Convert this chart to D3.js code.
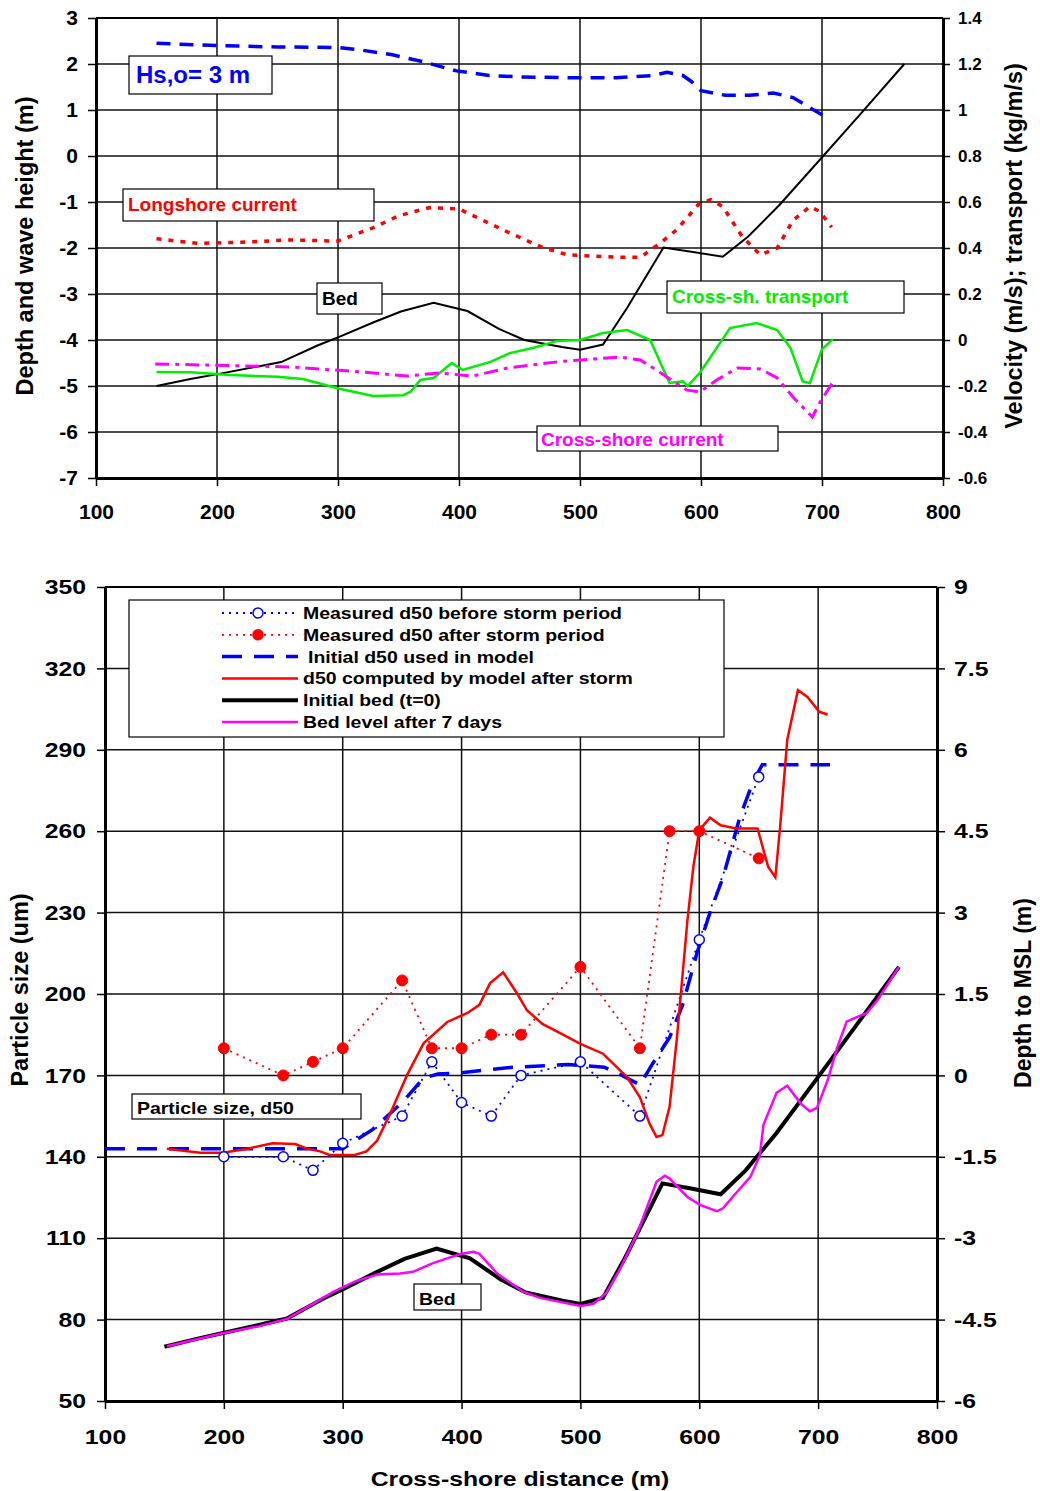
<!DOCTYPE html>
<html><head><meta charset="utf-8">
<script src="https://cdn.jsdelivr.net/npm/d3@7"></script>
<style>
body{margin:0;background:#fff}
svg{display:block}
text{font-family:"Liberation Sans",Arial,sans-serif;font-weight:bold}
</style>
</head><body>
<svg id="c" width="1040" height="1491"></svg>
<script>
// ---------- data ----------
const xTicks = [100,200,300,400,500,600,700,800];
const topLeftTicks = [-7,-6,-5,-4,-3,-2,-1,0,1,2,3];
const topRightTicks = [-0.6,-0.4,-0.2,0,0.2,0.4,0.6,0.8,1,1.2,1.4];
const botLeftTicks = [50,80,110,140,170,200,230,260,290,320,350];
const botRightTicks = [-6,-4.5,-3,-1.5,0,1.5,3,4.5,6,7.5,9];

// top panel (left axis: m ; right axis: m/s, kg/m/s)
const waveHeight = [[150,2.45],[200,2.40],[250,2.37],[300,2.36],[320,2.30],[345,2.20],[370,2.05],[398,1.85],[425,1.75],[450,1.72],[490,1.70],[530,1.70],[560,1.75],[572,1.82],[585,1.75],[592,1.62],[600,1.42],[620,1.32],[640,1.32],[660,1.37],[676,1.27],[690,1.05],[705,0.82]];
const longshoreCurrent = [[150,0.44],[185,0.42],[220,0.425],[260,0.435],[300,0.43],[330,0.49],[350,0.54],[375,0.575],[400,0.57],[440,0.47],[470,0.40],[490,0.37],[530,0.36],[550,0.36],[566,0.42],[580,0.48],[598,0.59],[608,0.61],[618,0.58],[634,0.45],[649,0.37],[663,0.40],[676,0.52],[690,0.58],[698,0.56],[708,0.49]];
const bedInitial = [[150,-5.0],[178,-4.85],[205,-4.72],[233,-4.58],[253,-4.48],[283,-4.12],[302,-3.92],[329,-3.62],[352,-3.38],[379,-3.19],[407,-3.37],[433,-3.76],[454,-4.0],[485,-4.15],[500,-4.21],[519,-4.1],[539,-3.3],[569,-1.99],[592,-2.08],[618,-2.19],[639,-1.75],[665,-1.06],[701,0],[733,0.95],[768,2.0]];
const crossTransport = [[150,-0.139],[178,-0.14],[211,-0.152],[250,-0.16],[271,-0.17],[302,-0.213],[329,-0.243],[354,-0.24],[360,-0.225],[368,-0.174],[379,-0.165],[394,-0.10],[403,-0.13],[426,-0.095],[442,-0.057],[461,-0.035],[481,-0.004],[500,0],[519,0.03],[539,0.043],[558,0],[574,-0.187],[585,-0.18],[589,-0.2],[599,-0.143],[624,0.052],[646,0.074],[663,0.043],[674,-0.035],[684,-0.18],[690,-0.187],[700,-0.04],[709,0.004]];
const crossCurrent = [[149,-0.104],[192,-0.109],[260,-0.117],[320,-0.139],[357,-0.157],[384,-0.143],[411,-0.157],[440,-0.122],[483,-0.094],[533,-0.074],[550,-0.087],[563,-0.13],[588,-0.217],[599,-0.226],[613,-0.174],[630,-0.122],[649,-0.126],[663,-0.165],[676,-0.248],[692,-0.335],[698,-0.274],[709,-0.183]];

// bottom panel (left axis: um ; right axis: m)
const beforeX = [200,250,275,300,350,375,400,425,450,500,550,600,650];
const beforeD50 = [140,140,135,145,155,175,160,155,170,175,155,220,280];
const afterX = [200,250,275,300,350,375,400,425,450,500,550,575,600,650];
const afterD50 = [180,170,175,180,205,180,180,185,185,210,180,260,260,250];
const d50Initial = [[100,143],[300,143],[325,150],[350,160],[368,169],[380,170.5],[400,171],[443,173],[490,174],[520,173],[535,170],[550,166.5],[561,174.5],[575,184],[586,196],[598,215],[609,230],[620,243],[634,265],[645,278],[653,284.5],[710,284.5]];
const d50Model = [[152,143],[180,141.5],[199,141.5],[220,143],[241,145],[260,144.7],[270,143],[281,142],[289,140.7],[310,140.7],[320,142],[329,146],[340,156],[354,170],[368,181.8],[388,189.7],[405,193],[415,196],[424,204],[435,208],[447,200],[455,194],[468,189],[483,185.6],[500,181.6],[519,178],[539,169.5],[550,162],[558,152.4],[564,147.3],[569,148],[575,158.4],[581,183],[590,227],[595,246.8],[600,260.4],[609,265],[618,262.2],[631,261],[649,261],[658,246.8],[664,243],[668,261.5],[674,293.6],[683,312],[691,309.5],[701,304],[708,303]];
const bed7days = [[152,-4.99],[199,-4.75],[230,-4.62],[253,-4.49],[292,-3.99],[310,-3.8],[329,-3.67],[348,-3.65],[359,-3.62],[376,-3.46],[399,-3.29],[410,-3.25],[415,-3.29],[430,-3.65],[452,-3.99],[466,-4.1],[500,-4.25],[511,-4.21],[522,-4.0],[533,-3.58],[548,-2.9],[564,-1.96],[571,-1.85],[575,-1.9],[590,-2.24],[601,-2.39],[615,-2.5],[620,-2.45],[628,-2.24],[643,-1.87],[651,-1.47],[654,-0.91],[665,-0.32],[674,-0.19],[685,-0.51],[693,-0.66],[699,-0.6],[708,-0.09],[716,0.51],[724,0.99],[733,1.08],[741,1.15],[750,1.39],[768,2.0]];

const legendLabels = ["Measured d50 before storm period","Measured d50 after storm period","Initial d50 used in model","d50 computed by model after storm","Initial bed (t=0)","Bed level after 7 days"];

// ---------- drawing ----------
const svg = d3.select("#c");
const BLUE="#0000ff", RED="#ff0000", GREEN="#00ee00", MAG="#ff00ff";

function stretch(sel, s){
  sel.each(function(){
    const t=d3.select(this); const x=+t.attr("x")||0;
    t.attr("x", x/s).attr("transform", `scale(${s},1)`);
  });
}
function label(g,x,y,txt,opt){
  const s=opt.s||1;
  const t=g.append("text").attr("transform",`translate(${x},${y}) scale(${s},1)${opt.rot?" rotate(-90)":""}`)
    .attr("font-size",opt.size).attr("fill",opt.fill||"#000").attr("text-anchor",opt.anchor||"start").text(txt);
  if(opt.dy) t.attr("dy",opt.dy);
  return t;
}
function box(g,x0,y0,x1,y1){
  g.append("rect").attr("x",x0).attr("y",y0).attr("width",x1-x0).attr("height",y1-y0)
   .attr("fill","#fff").attr("stroke","#000").attr("stroke-width",1.2);
}

// ===== TOP PANEL =====
{
const x = d3.scaleLinear([100,800],[96,943]);
const yL = d3.scaleLinear([-7,3],[478,18]);
const yR = d3.scaleLinear([-0.6,1.4],[478,18]);
const g = svg.append("g");
g.selectAll(".hg").data(topLeftTicks).join("line").attr("x1",96).attr("x2",943)
  .attr("y1",d=>yL(d)).attr("y2",d=>yL(d)).attr("stroke","#111").attr("stroke-width",1.5);
g.selectAll(".vg").data(xTicks).join("line").attr("y1",18).attr("y2",478)
  .attr("x1",d=>x(d)).attr("x2",d=>x(d)).attr("stroke","#111").attr("stroke-width",1.5);

const ax = (a)=>a.tickSizeOuter(0);
const gl = g.append("g").attr("transform","translate(96,0)")
  .call(ax(d3.axisLeft(yL).tickValues(topLeftTicks).tickFormat(d=>String(d)).tickSize(8).tickPadding(10)));
gl.selectAll("text").attr("font-size",21).attr("fill","#000");
const gr = g.append("g").attr("transform","translate(943,0)")
  .call(ax(d3.axisRight(yR).tickValues(topRightTicks).tickFormat(d=>String(d)).tickSize(7).tickPadding(8)));
gr.selectAll("text").attr("font-size",17).attr("fill","#000");
const gb = g.append("g").attr("transform","translate(0,478)")
  .call(ax(d3.axisBottom(x).tickValues(xTicks).tickFormat(d=>String(d)).tickSize(8).tickPadding(18)));
gb.selectAll("text").attr("font-size",21).attr("fill","#000");
[gl,gr,gb].forEach(a=>{a.attr("font-family",null);a.select(".domain").attr("stroke-width",3).attr("stroke","#000");a.selectAll(".tick line").attr("stroke-width",1.5).attr("stroke","#000");});
g.append("line").attr("x1",96).attr("x2",943).attr("y1",18).attr("y2",18).attr("stroke","#000").attr("stroke-width",2);

const lineL = d3.line().x(d=>x(d[0])).y(d=>yL(d[1]));
const lineR = d3.line().x(d=>x(d[0])).y(d=>yR(d[1]));
g.append("path").attr("d",lineL(bedInitial)).attr("fill","none").attr("stroke","#000").attr("stroke-width",2);
g.append("path").attr("d",lineR(crossTransport)).attr("fill","none").attr("stroke",GREEN).attr("stroke-width",2.5);
g.append("path").attr("d",lineR(crossCurrent)).attr("fill","none").attr("stroke",MAG).attr("stroke-width",3).attr("stroke-dasharray","14,6,4,6");
g.append("path").attr("d",lineR(longshoreCurrent)).attr("fill","none").attr("stroke",RED).attr("stroke-width",3.5).attr("stroke-dasharray","5,7");
g.append("path").attr("d",lineL(waveHeight)).attr("fill","none").attr("stroke",BLUE).attr("stroke-width",3.5).attr("stroke-dasharray","14,9");

box(g,129,56,272,94); label(g,136,83,"Hs,o= 3 m",{size:24,fill:BLUE});
box(g,123,189,374,221); label(g,128,211,"Longshore current",{size:19,fill:RED});
box(g,317,283,382,314); label(g,322,305,"Bed",{size:19});
box(g,667,281,904,313); label(g,672,303,"Cross-sh. transport",{size:19,fill:GREEN});
box(g,537,426,778,451); label(g,541,446,"Cross-shore current",{size:19,fill:MAG});

label(g,33,246,"Depth and wave height (m)",{size:23.5,rot:true,anchor:"middle"});
label(g,1022,246,"Velocity (m/s); transport (kg/m/s)",{size:23.5,rot:true,anchor:"middle"});
}

// ===== BOTTOM PANEL =====
{
const S=1.18;
const x = d3.scaleLinear([100,800],[105,937]);
const yL = d3.scaleLinear([50,350],[1401,587]);
const yR = d3.scaleLinear([-6,9],[1401,587]);
const g = svg.append("g");
g.selectAll(".hg").data(botLeftTicks).join("line").attr("x1",105).attr("x2",937)
  .attr("y1",d=>yL(d)).attr("y2",d=>yL(d)).attr("stroke","#111").attr("stroke-width",1.5);
g.selectAll(".vg").data(xTicks).join("line").attr("y1",587).attr("y2",1401)
  .attr("x1",d=>x(d)).attr("x2",d=>x(d)).attr("stroke","#111").attr("stroke-width",1.5);

const gl = g.append("g").attr("transform","translate(105,0)")
  .call(d3.axisLeft(yL).tickValues(botLeftTicks).tickFormat(d=>String(d)).tickSize(8).tickPadding(11).tickSizeOuter(0));
gl.selectAll("text").attr("font-size",21).attr("fill","#000").call(stretch,S);
const gr = g.append("g").attr("transform","translate(937,0)")
  .call(d3.axisRight(yR).tickValues(botRightTicks).tickFormat(d=>String(d)).tickSize(8).tickPadding(9).tickSizeOuter(0));
gr.selectAll("text").attr("font-size",21).attr("fill","#000").call(stretch,S);
const gb = g.append("g").attr("transform","translate(0,1401)")
  .call(d3.axisBottom(x).tickValues(xTicks).tickFormat(d=>String(d)).tickSize(8).tickPadding(20).tickSizeOuter(0));
gb.selectAll("text").attr("font-size",21).attr("fill","#000").call(stretch,S);
[gl,gr,gb].forEach(a=>{a.attr("font-family",null);a.select(".domain").attr("stroke-width",3).attr("stroke","#000");a.selectAll(".tick line").attr("stroke-width",1.5).attr("stroke","#000");});
g.append("line").attr("x1",105).attr("x2",937).attr("y1",587).attr("y2",587).attr("stroke","#000").attr("stroke-width",2);

const lineL = d3.line().x(d=>x(d[0])).y(d=>yL(d[1]));
const lineR = d3.line().x(d=>x(d[0])).y(d=>yR(d[1]));
const before = beforeX.map((v,i)=>[v,beforeD50[i]]);
const after = afterX.map((v,i)=>[v,afterD50[i]]);

g.append("path").attr("d",lineR(bedInitial)).attr("fill","none").attr("stroke","#000").attr("stroke-width",4);
g.append("path").attr("d",lineR(bed7days)).attr("fill","none").attr("stroke",MAG).attr("stroke-width",2.5);
g.append("path").attr("d",lineL(d50Initial)).attr("fill","none").attr("stroke",BLUE).attr("stroke-width",3.5).attr("stroke-dasharray","20,12");
g.append("path").attr("d",lineL(before)).attr("fill","none").attr("stroke",BLUE).attr("stroke-width",1.8).attr("stroke-dasharray","2,5");
g.append("path").attr("d",lineL(d50Model)).attr("fill","none").attr("stroke",RED).attr("stroke-width",2.5);
g.append("path").attr("d",lineL(after)).attr("fill","none").attr("stroke",RED).attr("stroke-width",1.8).attr("stroke-dasharray","2,5");
g.selectAll(".pb").data(before).join("circle").attr("cx",d=>x(d[0])).attr("cy",d=>yL(d[1])).attr("r",5)
  .attr("fill","#fff").attr("stroke",BLUE).attr("stroke-width",1.5);
g.selectAll(".pa").data(after).join("circle").attr("cx",d=>x(d[0])).attr("cy",d=>yL(d[1])).attr("r",5.5)
  .attr("fill",RED).attr("stroke",RED).attr("stroke-width",1);

box(g,132,1094,361,1119); label(g,137,1114,"Particle size, d50",{size:16.5,s:S});
box(g,414,1284,481,1310); label(g,419,1305,"Bed",{size:16.5,s:S});

box(g,129,600,724,737);
const styles = [
  {c:BLUE,w:1.8,da:"2,5",m:"open"},
  {c:RED,w:1.8,da:"2,5",m:"fill"},
  {c:BLUE,w:3.5,da:"20,12"},
  {c:RED,w:2.5},
  {c:"#000",w:4},
  {c:MAG,w:2.5}
];
legendLabels.forEach((t,i)=>{
  const y=613+i*21.8, st=styles[i];
  g.append("line").attr("x1",222).attr("x2",298).attr("y1",y).attr("y2",y)
    .attr("stroke",st.c).attr("stroke-width",st.w).attr("stroke-dasharray",st.da||null);
  if(st.m) g.append("circle").attr("cx",258).attr("cy",y).attr("r",5)
    .attr("fill",st.m==="open"?"#fff":RED).attr("stroke",st.c).attr("stroke-width",1.5);
  label(g,i===2?308:303,y,t,{size:16.5,s:S,dy:"0.36em"});
});

label(g,28,990,"Particle size (um)",{size:23.5,rot:true,anchor:"middle",s:1.05});
label(g,1031,993,"Depth to MSL (m)",{size:23,rot:true,anchor:"middle",s:1.05});
label(g,520,1486,"Cross-shore distance (m)",{size:21,anchor:"middle",s:S});
}
</script>
</body></html>
